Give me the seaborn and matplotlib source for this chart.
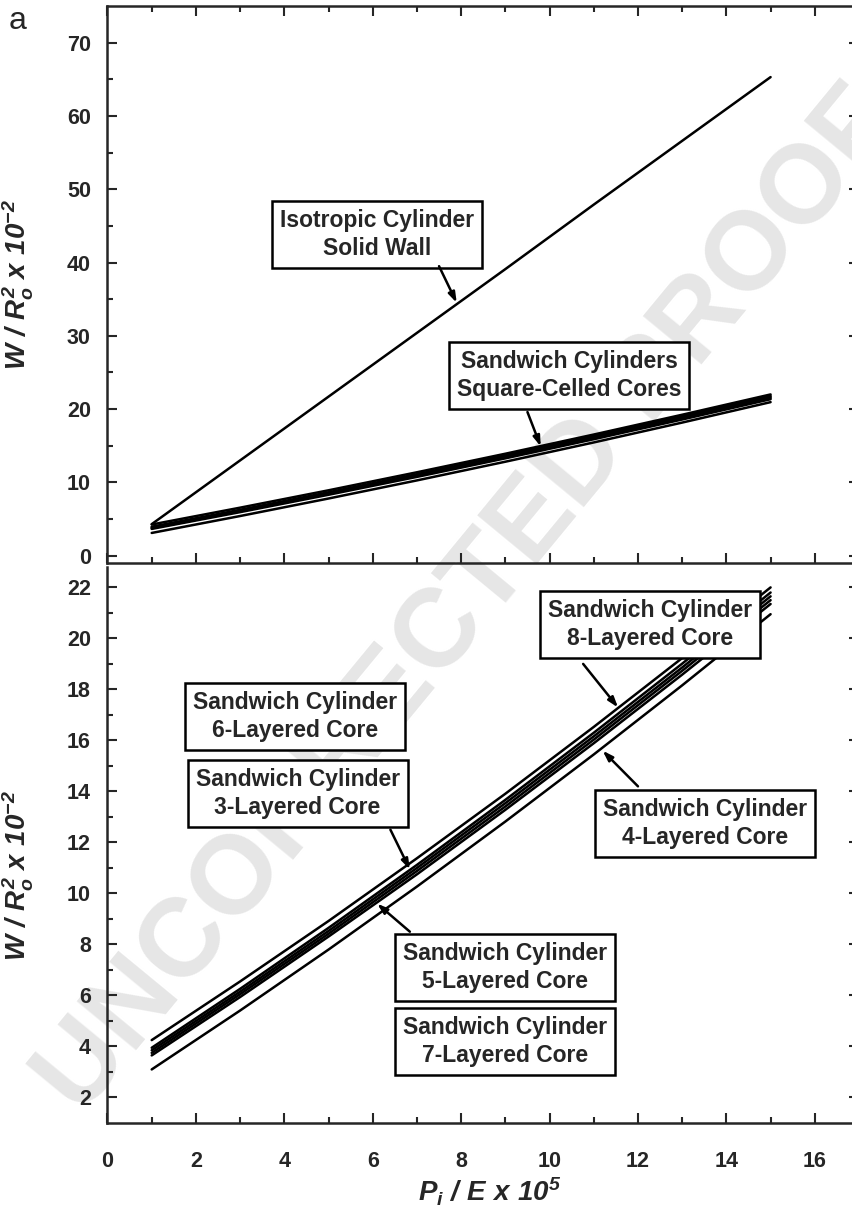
import numpy as np
import pandas as pd
import matplotlib
matplotlib.use("Agg")
import matplotlib.pyplot as plt
import seaborn as sns

# =============================================
# data
p_steps = [1, 3, 5, 7, 9, 11, 13, 15]

isotropic = [4.3, 13.0, 21.7, 30.4, 39.1, 47.9, 56.6, 65.3]

core_8 = [4.25, 6.55, 8.92, 11.38, 13.91, 16.53, 19.23, 22.0]
core_6 = [3.95, 6.26, 8.65, 11.12, 13.67, 16.30, 19.01, 21.8]
core_3 = [3.85, 6.15, 8.53, 11.00, 13.54, 16.16, 18.86, 21.65]
core_5 = [3.75, 6.05, 8.42, 10.88, 13.41, 16.03, 18.73, 21.5]
core_7 = [3.65, 5.94, 8.31, 10.75, 13.28, 15.89, 18.58, 21.35]
core_4 = [3.10, 5.41, 7.80, 10.27, 12.82, 15.45, 18.16, 20.95]

core_names = ['8-Layered', '6-Layered', '3-Layered', '5-Layered', '7-Layered', '4-Layered']
core_values = [core_8, core_6, core_3, core_5, core_7, core_4]

top_yticks = [0, 10, 20, 30, 40, 50, 60, 70]
bottom_yticks = [2, 4, 6, 8, 10, 12, 14, 16, 18, 20, 22]
xticks = [0, 2, 4, 6, 8, 10, 12, 14, 16]

# long form table for seaborn
sandwich_df = pd.concat([pd.DataFrame({'p': p_steps, 'w': v, 'core': n})
                         for n, v in zip(core_names, core_values)], ignore_index=True)
iso_df = pd.DataFrame({'p': p_steps, 'w': isotropic, 'core': 'isotropic'})

# =============================================
# plotting parameters
sns.set_style("ticks")
plt.rcParams['font.family'] = ['Liberation Sans', 'DejaVu Sans']
plt.rcParams['mathtext.fontset'] = 'custom'
plt.rcParams['mathtext.rm'] = 'Liberation Sans:bold:italic'
plt.rcParams['mathtext.it'] = 'Liberation Sans:bold:italic'
plt.rcParams['mathtext.bf'] = 'Liberation Sans:bold:italic'
plt.rcParams.update({
    'axes.linewidth': 1.8,
    'xtick.direction': 'in', 'ytick.direction': 'in',
    'xtick.major.size': 7, 'ytick.major.size': 7,
    'xtick.minor.size': 4, 'ytick.minor.size': 4,
    'xtick.major.width': 1.5, 'ytick.major.width': 1.5,
    'xtick.minor.width': 1.5, 'ytick.minor.width': 1.5,
})

tickFontSize = 15.5
boxFontSize = 16.5
labelFontSize = 20
lw = 1.8
black = {n: 'black' for n in core_names + ['isotropic']}
ylab = r'$W\ /\ R_o^2\ x\ 10^{-2}$'

fig = plt.figure(figsize=(8.52, 12.15), dpi=100)
W, H = 852.0, 1215.0
left_px, right_px = 107.5, 859.0
ax1 = fig.add_axes([left_px / W, 1 - 563 / H, (right_px - left_px) / W, (563 - 6) / H])
ax2 = fig.add_axes([left_px / W, 1 - 1123 / H, (right_px - left_px) / W, (1123 - 567) / H])

for ax in (ax1, ax2):
    ax.set_facecolor('none')

# watermark behind everything
fig.text(0.55, 0.505, 'UNCORRECTED PROOF', rotation=50.5, fontsize=80, fontweight='bold',
         color='#e6e6e6', ha='center', va='center', zorder=-1)

# =============================================
# top panel
sns.lineplot(data=iso_df, x='p', y='w', hue='core', palette=black, legend=False,
             estimator=None, sort=False, linewidth=lw, ax=ax1)
sns.lineplot(data=sandwich_df, x='p', y='w', hue='core', palette=black, legend=False,
             estimator=None, sort=False, linewidth=lw, ax=ax1)

ax1.set(xlim=[0, 17], ylim=[-1, 75])
ax1.set_yticks(top_yticks)
ax1.set_yticks(np.arange(5, 75, 10), minor=True)
ax1.set_xticks(xticks)
ax1.set_xticks(np.arange(1, 17, 2), minor=True)
ax1.tick_params(which='both', top=True, right=True, labelbottom=False)
ax1.tick_params(labelsize=tickFontSize)
ax1.tick_params(axis='y', pad=12)
ax1.set_xlabel('')
ax1.set_ylabel(ylab, fontsize=labelFontSize)
ax1.yaxis.set_label_coords(-0.095, 0.5)

box = dict(boxstyle='square,pad=0.35', fc='white', ec='black', lw=lw)
arrow = dict(arrowstyle='-|>,head_length=0.6,head_width=0.2', color='black', lw=1.8,
             shrinkA=0, shrinkB=0)
box_text = dict(ha='center', va='center', multialignment='center', fontsize=boxFontSize,
                fontweight='bold', linespacing=1.25, bbox=box, zorder=5)

ax1.text(6.1, 43.8, 'Isotropic Cylinder\nSolid Wall', **box_text)
ax1.annotate('', xy=(7.9, 34.5), xytext=(7.5, 39.5), arrowprops=arrow, zorder=6)

ax1.text(10.44, 24.6, 'Sandwich Cylinders\nSquare-Celled Cores', **box_text)
ax1.annotate('', xy=(9.8, 14.9), xytext=(9.5, 19.6), arrowprops=arrow, zorder=6)

for lab in ax1.get_yticklabels():
    lab.set_fontweight('bold')

# =============================================
# bottom panel
sns.lineplot(data=sandwich_df, x='p', y='w', hue='core', palette=black, legend=False,
             estimator=None, sort=False, linewidth=lw, ax=ax2)

ax2.set(xlim=[0, 17], ylim=[1, 22.8])
ax2.set_yticks(bottom_yticks)
ax2.set_yticks(np.arange(3, 23, 2), minor=True)
ax2.set_xticks(xticks)
ax2.set_xticks(np.arange(1, 17, 2), minor=True)
ax2.spines['top'].set_visible(False)
ax2.tick_params(which='both', top=False, right=True)
ax2.tick_params(labelsize=tickFontSize)
ax2.tick_params(axis='y', pad=12)
ax2.tick_params(axis='x', pad=20)
ax2.set_ylabel(ylab, fontsize=labelFontSize)
ax2.yaxis.set_label_coords(-0.095, 0.445)
ax2.set_xlabel(r'$P_i\ /\ E\ x\ 10^5$', fontsize=labelFontSize)
ax2.xaxis.set_label_coords((490 - left_px) / (right_px - left_px), -0.095)

for lab in ax2.get_yticklabels() + ax2.get_xticklabels():
    lab.set_fontweight('bold')

labels_bottom = [
    ('Sandwich Cylinder\n8-Layered Core', (12.27, 20.55), (11.55, 17.29), (10.76, 19.0)),
    ('Sandwich Cylinder\n6-Layered Core', (4.25, 16.94), None, None),
    ('Sandwich Cylinder\n3-Layered Core', (4.3, 13.92), (6.84, 10.94), (6.4, 12.5)),
    ('Sandwich Cylinder\n4-Layered Core', (13.52, 12.75), (11.2, 15.6), (12.0, 14.2)),
    ('Sandwich Cylinder\n5-Layered Core', (9.0, 7.1), (6.1, 9.6), (6.84, 8.5)),
    ('Sandwich Cylinder\n7-Layered Core', (9.0, 4.2), None, None),
]
for txt, pos, tip, tail in labels_bottom:
    ax2.text(pos[0], pos[1], txt, **box_text)
    if tip is not None:
        ax2.annotate('', xy=tip, xytext=tail, arrowprops=arrow, zorder=6)

fig.text(0.01, 0.995, 'a', ha='left', va='top', fontsize=23)

plt.savefig('out.png', dpi=100)
